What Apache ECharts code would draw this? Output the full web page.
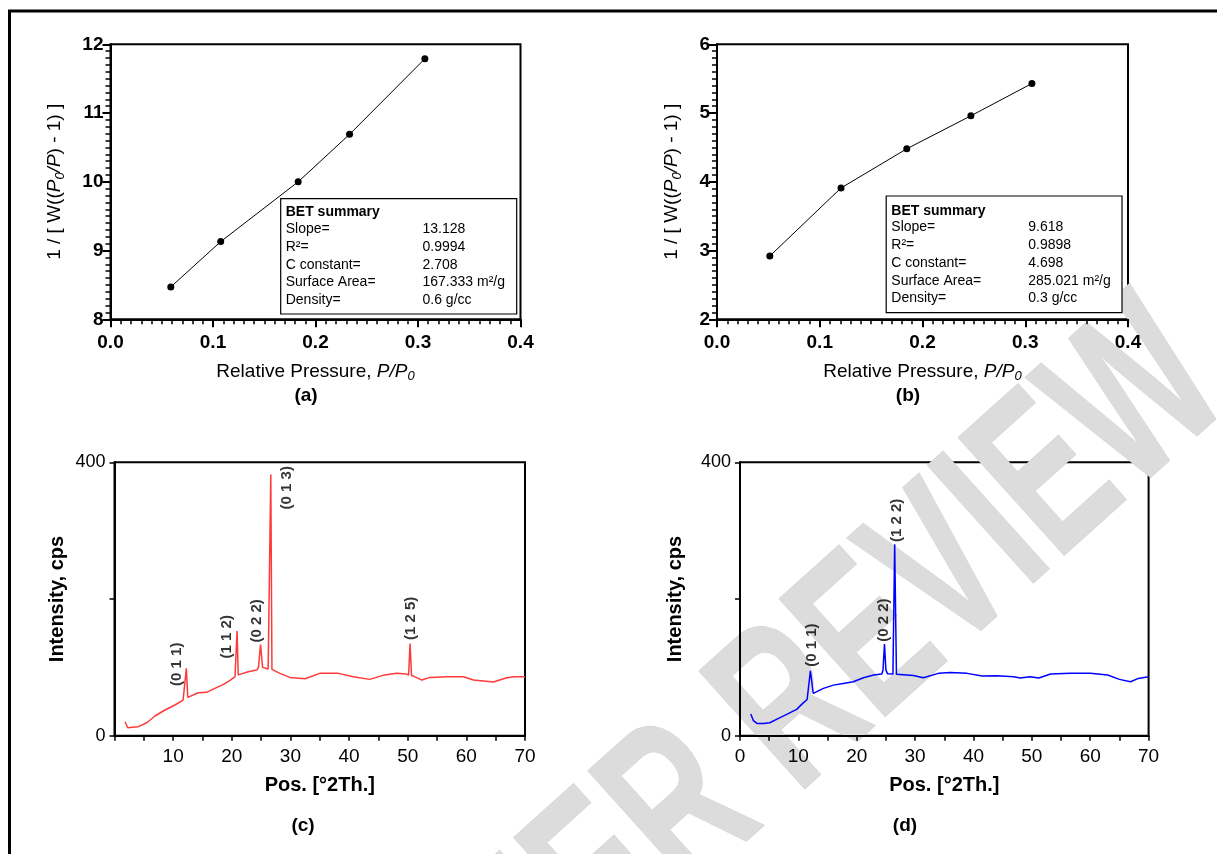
<!DOCTYPE html>
<html>
<head>
<meta charset="utf-8">
<script src="https://cdn.jsdelivr.net/npm/echarts@6/dist/echarts.min.js"></script>
<style>
html,body{margin:0;padding:0;background:#fff;}
#main{width:1217px;height:854px;}
</style>
</head>
<body>
<div id="main"></div>
<script>
// ---- Data ----
// (a) BET plot, sample 1
var betA = [[0.0588, 8.47], [0.1075, 9.13], [0.1831, 10.00], [0.2332, 10.69], [0.3067, 11.79]];
// (b) BET plot, sample 2
var betB = [[0.0514, 2.92], [0.1207, 3.91], [0.1847, 4.48], [0.2471, 4.96], [0.3065, 5.43]];
var betLabels = ['Slope=', 'R\u00b2=', 'C constant=', 'Surface Area=', 'Density='];
var betValuesA = ['13.128', '0.9994', '2.708', '167.333 m\u00b2/g', '0.6 g/cc'];
var betValuesB = ['9.618', '0.9898', '4.698', '285.021 m\u00b2/g', '0.3 g/cc'];
// (c) XRD pattern, red
var xrdC = [[1.8,20.5],[2.25,11.7],[3.0,12.5],[4.1,13.2],[5.5,19],[6.9,28.8],[8.6,37.6],[10.3,44.9],[11.7,52.2],
  [12.0,54],[12.25,98.5],[12.5,56],[12.8,57.5],[14.3,62.8],[15.7,63.4],[17.1,69.3],[18.6,75.1],[19.7,81],
  [20.55,86.5],[20.7,88],[20.9,153],[21.1,89],[21.4,89.5],[22.8,93.5],[24.25,96],[24.55,100],[24.9,133.5],
  [25.25,100],[25.5,98.5],[26.2,97.5],[26.45,97],[26.65,382],[26.85,97],[27.1,96],[28.2,91.2],[29.9,85.3],
  [32.5,83.3],[35.0,91.2],[38.2,91.2],[40.7,86.2],[43.5,82.4],[45.8,88.3],[48.1,91.2],[49.8,90.2],
  [50.15,88.5],[50.4,135],[50.65,88],[51.0,87.2],[52.4,81.4],[53.8,85.3],[56.65,86.2],[59.5,86.2],
  [61.2,81.4],[64.6,78.5],[66.9,84.8],[68.2,86.2],[70,86.2]];
// (d) XRD pattern, blue
var xrdD = [[1.85,31.7],[2.3,22],[2.9,18],[4.0,18],[5.1,19],[6.6,25.4],[8.0,31.2],[9.7,38.5],[10.75,47.3],
  [11.5,53],[11.65,55],[12.06,95],[12.55,62],[12.8,61],[14.3,69.2],[16.0,74],[17.7,76.5],[19.4,78.9],
  [21.15,84.8],[22.9,88.7],[24.3,90.2],[24.5,96],[24.75,134],[25.0,96],[25.3,90.5],[26.2,90.2],[26.5,280],
  [26.8,90],[27.4,89.7],[29.7,88.2],[31.4,84.8],[34.0,91.2],[36.0,92.6],[38.9,91.2],[41.5,87.2],[44.0,87.7],
  [46.9,86.2],[48.0,84.3],[49.7,86.2],[51.2,84.3],[53.2,90.2],[56.6,91.2],[60.0,91.2],[63.0,88.7],
  [65.0,82.4],[66.9,79],[68.25,83.8],[70,86.2]];
// Miller index annotations (label centres, data coordinates)
var hklC = ['(0 1 1)', '(1 1 2)', '(0 2 2)', '(0 1 3)', '(1 2 5)'];
var hklCPos = [[10.6,104.5],[19.1,144.7],[24.25,168],[29.4,362.7],[50.5,171.6]];
var hklD = ['(0 1 1)', '(0 2 2)', '(1 2 2)'];
var hklDPos = [[12.3,132.5],[24.6,169],[26.8,315]];
// axis ticks
var betXTicks = [0.0, 0.1, 0.2, 0.3, 0.4];
var betAYRange = [8, 12];
var betBYRange = [2, 6];
var xrdXRange = [0, 70];
var xrdYTicks = [0, 200, 400];

// ---- Chart ----
var FONT = 'Liberation Sans, Arial, sans-serif';
var chart = echarts.init(document.getElementById('main'), null, {renderer: 'canvas'});

var grids = [
  {left: 110.5, top: 44.3, width: 410, height: 275},
  {left: 717, top: 44.3, width: 411, height: 275},
  {left: 114.5, top: 462.3, width: 410.5, height: 273.4},
  {left: 740, top: 462.3, width: 408.6, height: 273.4}
].map(function (g) {
  return Object.assign({show: true, borderColor: '#000', borderWidth: 2, backgroundColor: 'transparent', containLabel: false}, g);
});

var titleRich = {
  n: {fontSize: 19, fontFamily: FONT, lineHeight: 24, color: '#000'},
  i: {fontSize: 19, fontFamily: FONT, fontStyle: 'italic', lineHeight: 24, color: '#000'},
  s: {fontSize: 13, fontFamily: FONT, fontStyle: 'italic', lineHeight: 14, verticalAlign: 'bottom', color: '#000'}
};

function betXAxis(idx) {
  return {
    gridIndex: idx, type: 'value', min: betXTicks[0], max: betXTicks[betXTicks.length - 1], interval: 0.1,
    name: '{n|Relative Pressure, }{i|P/P}{s|0}', nameLocation: 'middle', nameGap: 40,
    nameTextStyle: {fontSize: 19, fontFamily: FONT, color: '#000', lineHeight: 24, rich: titleRich},
    axisLine: {onZero: false, lineStyle: {color: '#000', width: 2}},
    axisTick: {length: 8, lineStyle: {color: '#000', width: 2}},
    minorTick: {show: true, splitNumber: 10, length: 5, lineStyle: {color: '#000', width: 1.5}},
    axisLabel: {fontSize: 19, fontWeight: 'bold', fontFamily: FONT, color: '#000', margin: 14,
      formatter: function (v) { return v.toFixed(1); }},
    splitLine: {show: false}
  };
}
function betYAxis(idx, range, gap) {
  return {
    gridIndex: idx, type: 'value', min: range[0], max: range[1], interval: 1,
    name: '{n|1 / [ W((}{i|P}{s|0}{i|/P}{n|) - 1) ]}', nameLocation: 'middle', nameGap: gap,
    nameTextStyle: {fontSize: 19, fontFamily: FONT, color: '#000', lineHeight: 24, rich: titleRich},
    axisLine: {onZero: false, lineStyle: {color: '#000', width: 2}},
    axisTick: {length: 8, lineStyle: {color: '#000', width: 2}},
    minorTick: {show: true, splitNumber: 10, length: 5, lineStyle: {color: '#000', width: 1.5}},
    axisLabel: {fontSize: 19, fontWeight: 'bold', fontFamily: FONT, color: '#000', margin: 7},
    splitLine: {show: false}
  };
}
function xrdXAxis(idx, showZero) {
  return {
    gridIndex: idx, type: 'value', min: xrdXRange[0], max: xrdXRange[1], interval: 5,
    name: 'Pos. [\u00b02Th.]', nameLocation: 'middle', nameGap: 40,
    nameTextStyle: {fontSize: 20, fontWeight: 'bold', fontFamily: FONT, color: '#000'},
    axisLine: {onZero: false, lineStyle: {color: '#000', width: 2}},
    axisTick: {length: 5, lineStyle: {color: '#000', width: 1.5}},
    axisLabel: {fontSize: 19, fontFamily: FONT, color: '#000', margin: 12,
      formatter: function (v) { return (v % 10 === 0 && (v > 0 || showZero)) ? String(v) : ''; }},
    splitLine: {show: false}
  };
}
function xrdYAxis(idx, gap) {
  return {
    gridIndex: idx, type: 'value', min: xrdYTicks[0], max: xrdYTicks[xrdYTicks.length - 1], interval: 200,
    name: 'Intensity, cps', nameLocation: 'middle', nameGap: gap,
    nameTextStyle: {fontSize: 20, fontWeight: 'bold', fontFamily: FONT, color: '#000'},
    axisLine: {onZero: false, lineStyle: {color: '#000', width: 2}},
    axisTick: {length: 5, lineStyle: {color: '#000', width: 1.5}},
    axisLabel: {fontSize: 18, fontFamily: FONT, color: '#000', margin: 9,
      formatter: function (v) { return v === 200 ? '' : String(v); }},
    splitLine: {show: false}
  };
}

function hklSeries(names, pos, xi) {
  return {
    type: 'scatter', xAxisIndex: xi, yAxisIndex: xi, symbol: 'circle', symbolSize: 1,
    itemStyle: {color: 'transparent'}, silent: true, z: 5,
    label: {show: true, position: 'inside', rotate: 90, fontSize: 15, fontWeight: 'bold', fontFamily: FONT,
      color: '#000', formatter: function (p) { return p.name; }},
    data: names.map(function (n, i) { return {name: n, value: pos[i]}; })
  };
}

function betBox(x0, y0, w, h, labX, valX, lineYs, values) {
  var els = [{type: 'rect', shape: {x: x0, y: y0, width: w, height: h},
    style: {fill: '#fff', stroke: '#000', lineWidth: 1.2}, z: 10}];
  els.push({type: 'text', x: labX, y: lineYs[0], z: 11,
    style: {text: 'BET summary', fontSize: 14, fontWeight: 'bold', fontFamily: FONT, fill: '#000', verticalAlign: 'middle'}});
  for (var i = 0; i < betLabels.length; i++) {
    els.push({type: 'text', x: labX, y: lineYs[i + 1], z: 11,
      style: {text: betLabels[i], fontSize: 14, fontFamily: FONT, fill: '#000', verticalAlign: 'middle'}});
    els.push({type: 'text', x: valX, y: lineYs[i + 1], z: 11,
      style: {text: values[i], fontSize: 14, fontFamily: FONT, fill: '#000', verticalAlign: 'middle'}});
  }
  return els;
}

var WM_ROT = 42 * Math.PI / 180;
var wmStyle = {fontSize: 230, fontWeight: 'bold', fontFamily: FONT, fill: '#dcdcdc', stroke: '#cfcfcf', lineWidth: 1, verticalAlign: 'middle'};
var graphics = [
  // watermark
  {type: 'text', x: 974, y: 551, rotation: WM_ROT, scaleX: 0.65, z: 0, silent: true,
    style: Object.assign({text: 'REVIEW', align: 'center'}, wmStyle)},
  {type: 'text', x: 724, y: 776, rotation: WM_ROT, scaleX: 0.65, z: 0, silent: true,
    style: Object.assign({text: 'PEER', align: 'right'}, wmStyle)},
  // outer frame
  {type: 'rect', shape: {x: 9.5, y: 11, width: 1240, height: 880}, style: {fill: 'none', stroke: '#000', lineWidth: 3}, z: 20},
  // panel letters
  {type: 'text', x: 306, y: 396, z: 11, style: {text: '(a)', fontSize: 19, fontWeight: 'bold', fontFamily: FONT, fill: '#000', align: 'center', verticalAlign: 'middle'}},
  {type: 'text', x: 908, y: 396, z: 11, style: {text: '(b)', fontSize: 19, fontWeight: 'bold', fontFamily: FONT, fill: '#000', align: 'center', verticalAlign: 'middle'}},
  {type: 'text', x: 303, y: 826, z: 11, style: {text: '(c)', fontSize: 19, fontWeight: 'bold', fontFamily: FONT, fill: '#000', align: 'center', verticalAlign: 'middle'}},
  {type: 'text', x: 905, y: 826, z: 11, style: {text: '(d)', fontSize: 19, fontWeight: 'bold', fontFamily: FONT, fill: '#000', align: 'center', verticalAlign: 'middle'}}
].concat(
  betBox(280.7, 198.7, 236, 115.3, 285.7, 422.5, [212.3, 229.6, 247, 264.8, 282.6, 300.4], betValuesA),
  betBox(886.2, 196, 235.8, 116.7, 891.3, 1028.3, [210.7, 227.6, 245, 263, 280.8, 298], betValuesB)
);

var option = {
  animation: false,
  backgroundColor: '#fff',
  grid: grids,
  xAxis: [betXAxis(0), betXAxis(1), xrdXAxis(2, false), xrdXAxis(3, true)],
  yAxis: [betYAxis(0, betAYRange, 44), betYAxis(1, betBYRange, 33), xrdYAxis(2, 47), xrdYAxis(3, 55)],
  series: [
    {type: 'line', xAxisIndex: 0, yAxisIndex: 0, data: betA, symbol: 'circle', symbolSize: 7, showSymbol: true,
      itemStyle: {color: '#000'}, lineStyle: {color: '#000', width: 1}, z: 3},
    {type: 'line', xAxisIndex: 1, yAxisIndex: 1, data: betB, symbol: 'circle', symbolSize: 7, showSymbol: true,
      itemStyle: {color: '#000'}, lineStyle: {color: '#000', width: 1}, z: 3},
    {type: 'line', xAxisIndex: 2, yAxisIndex: 2, data: xrdC, symbol: 'none',
      lineStyle: {color: '#ff3a3a', width: 1.5}, z: 3},
    {type: 'line', xAxisIndex: 3, yAxisIndex: 3, data: xrdD, symbol: 'none',
      lineStyle: {color: '#0000ff', width: 1.5}, z: 3},
    hklSeries(hklC, hklCPos, 2),
    hklSeries(hklD, hklDPos, 3)
  ],
  graphic: graphics
};
chart.setOption(option);
</script>
</body>
</html>
